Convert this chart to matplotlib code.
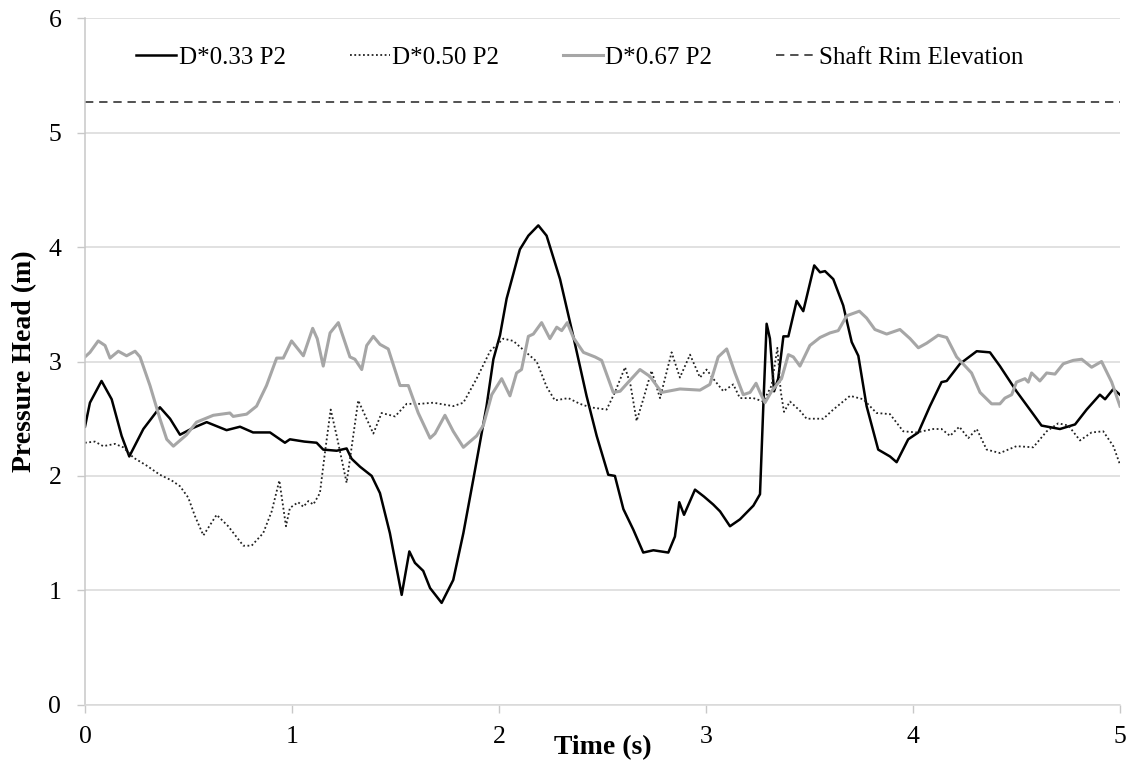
import matplotlib
matplotlib.use("Agg")
import matplotlib.pyplot as plt

plt.rcParams['font.family'] = ['Liberation Serif', 'DejaVu Serif']

# pressure head readings at P2 for the three shaft diameters
t_033 = [0.000, 0.024, 0.080, 0.129, 0.177, 0.214, 0.282, 0.362, 0.411, 0.459,
         0.523, 0.588, 0.684, 0.749, 0.812, 0.894, 0.966, 0.990, 1.060, 1.119,
         1.151, 1.216, 1.264, 1.288, 1.329, 1.385, 1.425, 1.473, 1.530, 1.567,
         1.594, 1.634, 1.667, 1.723, 1.779, 1.828, 1.876, 1.940, 1.973, 2.005,
         2.037, 2.070, 2.101, 2.142, 2.190, 2.230, 2.295, 2.359, 2.423, 2.472,
         2.528, 2.560, 2.601, 2.649, 2.697, 2.746, 2.818, 2.850, 2.871, 2.894,
         2.947, 2.990, 3.035, 3.068, 3.116, 3.164, 3.229, 3.261, 3.277, 3.293,
         3.309, 3.329, 3.349, 3.374, 3.398, 3.438, 3.470, 3.523, 3.551, 3.575,
         3.615, 3.663, 3.704, 3.736, 3.776, 3.832, 3.889, 3.921, 3.977, 4.026,
         4.082, 4.138, 4.163, 4.227, 4.308, 4.372, 4.420, 4.500, 4.581, 4.621,
         4.710, 4.783, 4.839, 4.903, 4.928, 4.968, 5.000]
h_033 = [2.43, 2.64, 2.83, 2.67, 2.35, 2.17, 2.41, 2.60, 2.50, 2.36,
         2.42, 2.47, 2.40, 2.43, 2.38, 2.38, 2.29, 2.32, 2.30, 2.29,
         2.23, 2.22, 2.24, 2.15, 2.08, 2.00, 1.85, 1.50, 0.96, 1.34,
         1.24, 1.17, 1.02, 0.89, 1.09, 1.50, 1.97, 2.61, 3.02, 3.23,
         3.55, 3.77, 3.98, 4.10, 4.19, 4.10, 3.72, 3.22, 2.70, 2.35,
         2.01, 2.00, 1.71, 1.53, 1.33, 1.35, 1.33, 1.47, 1.77, 1.66,
         1.88, 1.82, 1.75, 1.69, 1.56, 1.62, 1.74, 1.84, 2.61, 3.33,
         3.20, 2.74, 2.85, 3.22, 3.22, 3.53, 3.44, 3.84, 3.78, 3.79,
         3.72, 3.49, 3.17, 3.05, 2.61, 2.23, 2.17, 2.12, 2.32, 2.38,
         2.61, 2.82, 2.83, 2.98, 3.09, 3.08, 2.96, 2.74, 2.54, 2.44,
         2.41, 2.45, 2.58, 2.71, 2.67, 2.76, 2.71]

t_050 = [0.000, 0.048, 0.088, 0.145, 0.185, 0.234, 0.298, 0.362, 0.419, 0.459,
         0.499, 0.531, 0.572, 0.636, 0.692, 0.765, 0.805, 0.861, 0.902, 0.939,
         0.971, 0.990, 1.030, 1.055, 1.079, 1.103, 1.135, 1.159, 1.187, 1.216,
         1.264, 1.320, 1.393, 1.433, 1.498, 1.554, 1.618, 1.683, 1.779, 1.828,
         1.892, 1.957, 2.021, 2.069, 2.150, 2.182, 2.230, 2.270, 2.335, 2.391,
         2.440, 2.520, 2.560, 2.609, 2.636, 2.665, 2.697, 2.737, 2.778, 2.834,
         2.874, 2.923, 2.971, 3.003, 3.035, 3.084, 3.132, 3.164, 3.229, 3.277,
         3.317, 3.345, 3.361, 3.377, 3.406, 3.454, 3.486, 3.567, 3.615, 3.696,
         3.760, 3.824, 3.889, 3.953, 4.018, 4.098, 4.138, 4.179, 4.224, 4.267,
         4.308, 4.356, 4.420, 4.500, 4.581, 4.646, 4.702, 4.751, 4.807, 4.863,
         4.919, 4.968, 5.000]
h_050 = [2.29, 2.30, 2.26, 2.28, 2.25, 2.16, 2.09, 2.01, 1.96, 1.91,
         1.81, 1.65, 1.48, 1.66, 1.56, 1.39, 1.39, 1.50, 1.69, 1.96,
         1.56, 1.72, 1.77, 1.73, 1.78, 1.75, 1.85, 2.20, 2.58, 2.35,
         1.94, 2.66, 2.37, 2.55, 2.52, 2.63, 2.63, 2.64, 2.61, 2.64,
         2.85, 3.09, 3.20, 3.18, 3.05, 3.00, 2.78, 2.66, 2.68, 2.63,
         2.60, 2.58, 2.73, 2.95, 2.79, 2.48, 2.67, 2.92, 2.68, 3.08,
         2.86, 3.06, 2.86, 2.93, 2.85, 2.74, 2.80, 2.68, 2.68, 2.65,
         2.79, 3.12, 2.74, 2.56, 2.65, 2.57, 2.50, 2.50, 2.58, 2.70,
         2.67, 2.55, 2.54, 2.39, 2.38, 2.41, 2.41, 2.35, 2.43, 2.33,
         2.41, 2.23, 2.20, 2.26, 2.25, 2.39, 2.46, 2.44, 2.31, 2.38,
         2.39, 2.26, 2.10]

t_067 = [0.000, 0.024, 0.064, 0.097, 0.121, 0.161, 0.201, 0.242, 0.266, 0.314,
         0.362, 0.395, 0.427, 0.491, 0.539, 0.620, 0.700, 0.716, 0.781, 0.829,
         0.877, 0.926, 0.958, 0.998, 1.055, 1.100, 1.122, 1.151, 1.184, 1.224,
         1.280, 1.304, 1.337, 1.361, 1.393, 1.425, 1.465, 1.522, 1.562, 1.610,
         1.667, 1.691, 1.739, 1.779, 1.828, 1.892, 1.924, 1.965, 2.013, 2.053,
         2.085, 2.109, 2.142, 2.166, 2.206, 2.246, 2.279, 2.303, 2.330, 2.359,
         2.408, 2.464, 2.496, 2.552, 2.585, 2.625, 2.681, 2.729, 2.786, 2.874,
         2.971, 3.019, 3.059, 3.100, 3.140, 3.180, 3.213, 3.242, 3.261, 3.285,
         3.317, 3.365, 3.398, 3.422, 3.454, 3.502, 3.551, 3.599, 3.639, 3.680,
         3.741, 3.776, 3.816, 3.873, 3.937, 3.986, 4.026, 4.066, 4.122, 4.163,
         4.211, 4.283, 4.324, 4.380, 4.420, 4.444, 4.477, 4.500, 4.541, 4.557,
         4.573, 4.613, 4.646, 4.686, 4.726, 4.774, 4.815, 4.863, 4.911, 4.960,
         5.000]
h_067 = [3.04, 3.08, 3.18, 3.14, 3.03, 3.09, 3.05, 3.09, 3.04, 2.79,
         2.50, 2.32, 2.26, 2.36, 2.47, 2.53, 2.55, 2.52, 2.54, 2.61,
         2.79, 3.03, 3.03, 3.18, 3.05, 3.29, 3.20, 2.96, 3.25, 3.34,
         3.04, 3.02, 2.93, 3.14, 3.22, 3.15, 3.11, 2.79, 2.79, 2.55,
         2.33, 2.37, 2.53, 2.39, 2.25, 2.35, 2.44, 2.71, 2.85, 2.70,
         2.90, 2.93, 3.22, 3.24, 3.34, 3.20, 3.30, 3.27, 3.34, 3.21,
         3.08, 3.04, 3.01, 2.73, 2.74, 2.82, 2.93, 2.87, 2.73, 2.76,
         2.75, 2.80, 3.04, 3.11, 2.90, 2.71, 2.73, 2.81, 2.73, 2.64,
         2.74, 2.85, 3.06, 3.04, 2.96, 3.14, 3.21, 3.25, 3.27, 3.40,
         3.44, 3.38, 3.28, 3.24, 3.28, 3.20, 3.12, 3.16, 3.23, 3.21,
         3.04, 2.90, 2.73, 2.63, 2.63, 2.68, 2.71, 2.82, 2.85, 2.82,
         2.90, 2.83, 2.90, 2.89, 2.98, 3.01, 3.02, 2.95, 3.00, 2.82,
         2.61]

rim_elevation = 5.27

fig = plt.figure(figsize=(11.33, 7.70), dpi=100)
ax = fig.add_axes([0.075, 0.0848, 0.9135, 0.8914])

ax.plot(t_033, h_033, color='black', lw=1.8, label='D*0.33 P2')
ax.plot(t_050, h_050, color='#222222', lw=1.3, linestyle=(0, (1, 1.4)), label='D*0.50 P2')
ax.plot(t_067, h_067, color='#a6a6a6', lw=2.2, label='D*0.67 P2')
ax.axhline(rim_elevation, color='#333333', lw=1.2, linestyle=(0, (5, 3.5)), label='Shaft Rim Elevation')

ax.set_xlim(0, 5)
ax.set_ylim(0, 6)
ax.set_xticks(range(0, 6))
ax.set_yticks(range(0, 7))
ax.grid(axis='y', color='#d9d9d9', lw=1.1)
ax.set_axisbelow(True)

for side in ['top', 'right']:
    ax.spines[side].set_visible(False)
ax.spines['left'].set_color('#c8c8c8')
ax.spines['bottom'].set_color('#d9d9d9')
ax.spines['left'].set_linewidth(1.1)
ax.spines['bottom'].set_linewidth(1.1)
ax.tick_params(axis='both', color='#c8c8c8', length=6, width=1.0, labelsize=18.5)
ax.tick_params(axis='x', pad=9)
ax.tick_params(axis='y', pad=11)

ax.set_xlabel('Time (s)', fontsize=20, fontweight='bold')
ax.xaxis.set_label_coords(0.5, -0.045)
ax.set_ylabel('Pressure Head (m)', fontsize=20, fontweight='bold', labelpad=8)

ax.legend(loc='center left', bbox_to_anchor=(0.040, 0.943), ncol=4, frameon=False,
          fontsize=18, handlelength=1.6, handletextpad=0.1, columnspacing=2.55,
          borderaxespad=0)

fig.savefig('out.png', dpi=100)
